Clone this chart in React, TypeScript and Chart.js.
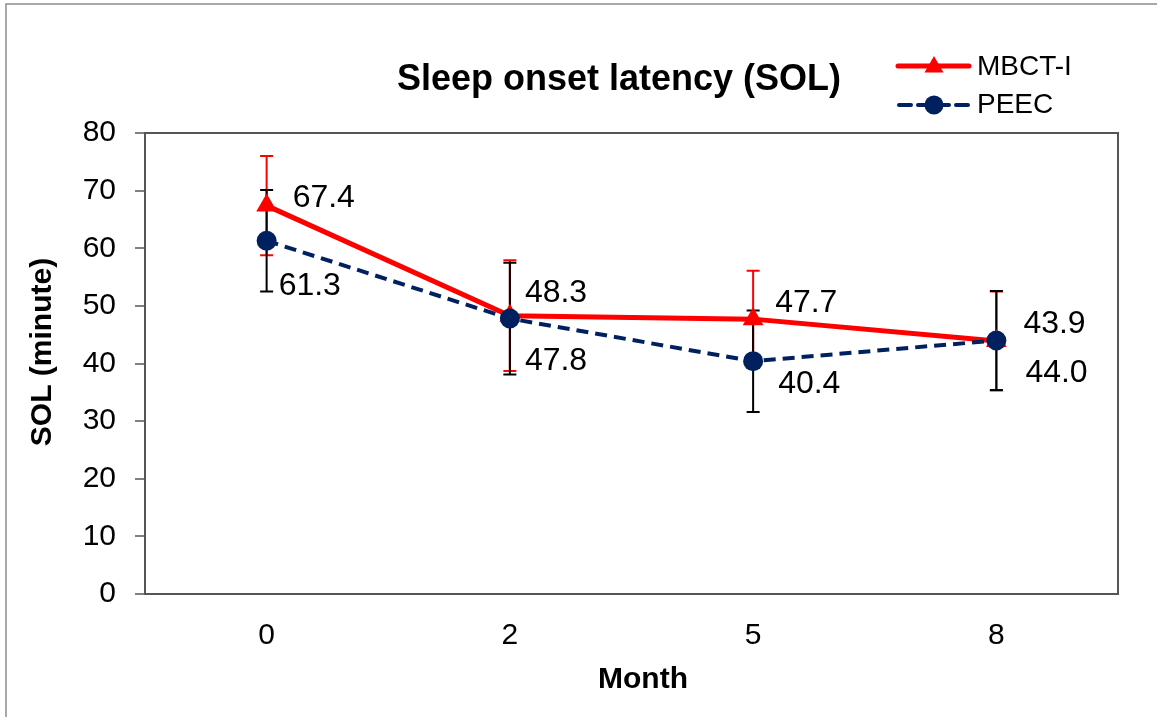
import React, { useEffect, useRef } from 'react';
import { Chart, registerables } from 'chart.js';

Chart.register(...registerables);

const months = ['0', '2', '5', '8'];
const mbctValues = [67.4, 48.3, 47.7, 43.9];
const mbctErrors = [8.6, 9.6, 8.4, 8.6];
const peecValues = [61.3, 47.8, 40.4, 44.0];
const peecErrors = [8.8, 9.7, 8.8, 8.6];
const yMin = 0;
const yMax = 80;
const yStep = 10;

const titleText = 'Sleep onset latency (SOL)';
const xTitle = 'Month';
const yTitle = 'SOL (minute)';

const FONT = '"Liberation Sans", Arial, sans-serif';
const RED = '#FF0000';
const NAVY = '#002060';

// label offsets (px) relative to each point: [dx, dy(baseline)]
const mbctLabelOffsets = [[26, 1], [15, -14], [22, -7], [27, -8]];
const peecLabelOffsets = [[12, 54], [15, 51], [25, 32], [29, 42]];

const overlay = {
  id: 'overlay',
  beforeDatasetsDraw(chart: any) {
    const ctx = chart.ctx;
    const { left, right, top, bottom } = chart.chartArea;
    ctx.save();
    // outer frame
    ctx.strokeStyle = '#8c8c8c';
    ctx.lineWidth = 1.5;
    ctx.beginPath();
    ctx.moveTo(6, 717);
    ctx.lineTo(6, 4);
    ctx.lineTo(1157, 4);
    ctx.stroke();
    // plot box
    ctx.strokeStyle = '#555555';
    ctx.lineWidth = 2;
    ctx.strokeRect(left, top, right - left, bottom - top);

    const yScale = chart.scales.y;
    const drawErr = (dsIndex: number, color: string) => {
      const ds = chart.data.datasets[dsIndex];
      const meta = chart.getDatasetMeta(dsIndex);
      ctx.strokeStyle = color;
      ctx.lineWidth = 2;
      meta.data.forEach((pt: any, i: number) => {
        const v = ds.data[i];
        const e = ds.errors[i];
        const yt = yScale.getPixelForValue(v + e);
        const yb = yScale.getPixelForValue(v - e);
        ctx.beginPath();
        ctx.moveTo(pt.x, yt);
        ctx.lineTo(pt.x, yb);
        ctx.moveTo(pt.x - 6.5, yt);
        ctx.lineTo(pt.x + 6.5, yt);
        ctx.moveTo(pt.x - 6.5, yb);
        ctx.lineTo(pt.x + 6.5, yb);
        ctx.stroke();
      });
    };
    drawErr(0, RED);
    drawErr(1, '#000000');
    ctx.restore();
  },
  afterDraw(chart: any) {
    const ctx = chart.ctx;
    ctx.save();
    ctx.fillStyle = '#000';
    // title
    ctx.font = `bold 36px ${FONT}`;
    ctx.textAlign = 'center';
    ctx.textBaseline = 'alphabetic';
    ctx.fillText(titleText, 619, 90);
    // x title
    ctx.font = `bold 30px ${FONT}`;
    ctx.fillText(xTitle, 643, 688);
    // y title
    ctx.save();
    ctx.translate(51, 352);
    ctx.rotate(-Math.PI / 2);
    ctx.fillText(yTitle, 0, 0);
    ctx.restore();

    // data labels
    ctx.font = `32px ${FONT}`;
    ctx.textAlign = 'left';
    const drawLabels = (dsIndex: number, offs: number[][]) => {
      const ds = chart.data.datasets[dsIndex];
      const meta = chart.getDatasetMeta(dsIndex);
      meta.data.forEach((pt: any, i: number) => {
        ctx.fillText(Number(ds.data[i]).toFixed(1), pt.x + offs[i][0], pt.y + offs[i][1]);
      });
    };
    drawLabels(0, mbctLabelOffsets);
    drawLabels(1, peecLabelOffsets);

    // legend
    const lx0 = 898, lx1 = 969, mx = 934, tx = 977;
    const ds0 = chart.data.datasets[0];
    const ds1 = chart.data.datasets[1];
    ctx.lineCap = 'round';
    ctx.strokeStyle = RED;
    ctx.lineWidth = 5;
    ctx.beginPath();
    ctx.moveTo(lx0, 66);
    ctx.lineTo(lx1, 66);
    ctx.stroke();
    ctx.lineCap = 'butt';
    ctx.fillStyle = RED;
    const r = 11;
    const cy = 67;
    ctx.beginPath();
    ctx.moveTo(mx, cy - r);
    ctx.lineTo(mx + Math.sin((2 * Math.PI) / 3) * r, cy - Math.cos((2 * Math.PI) / 3) * r);
    ctx.lineTo(mx + Math.sin((4 * Math.PI) / 3) * r, cy - Math.cos((4 * Math.PI) / 3) * r);
    ctx.closePath();
    ctx.fill();
    ctx.fillStyle = '#000';
    ctx.font = `28px ${FONT}`;
    ctx.fillText(ds0.label, tx, 75);

    ctx.strokeStyle = NAVY;
    ctx.lineWidth = 4;
    ctx.lineCap = 'round';
    ctx.setLineDash([12, 7]);
    ctx.beginPath();
    ctx.moveTo(lx0 + 1, 105);
    ctx.lineTo(lx1, 105);
    ctx.stroke();
    ctx.setLineDash([]);
    ctx.fillStyle = NAVY;
    ctx.beginPath();
    ctx.arc(mx, 105, 9.5, 0, Math.PI * 2);
    ctx.fill();
    ctx.fillStyle = '#000';
    ctx.fillText(ds1.label, tx, 113);
    ctx.restore();
  },
};

export default function App() {
  const canvasRef = useRef<HTMLCanvasElement | null>(null);

  useEffect(() => {
    if (!canvasRef.current) return;
    const chart = new Chart(canvasRef.current, {
      type: 'line',
      data: {
        labels: months,
        datasets: [
          {
            label: 'MBCT-I',
            data: mbctValues,
            errors: mbctErrors,
            borderColor: RED,
            backgroundColor: RED,
            borderWidth: 5,
            pointStyle: 'triangle',
            pointRadius: 12,
            pointBorderWidth: 0,
            pointBackgroundColor: RED,
            tension: 0,
            order: 1,
          } as any,
          {
            label: 'PEEC',
            data: peecValues,
            errors: peecErrors,
            borderColor: NAVY,
            backgroundColor: NAVY,
            borderWidth: 4,
            borderDash: [12, 7],
            pointStyle: 'circle',
            pointRadius: 10,
            pointBorderWidth: 0,
            pointBackgroundColor: NAVY,
            tension: 0,
            order: 0,
          } as any,
        ],
      },
      options: {
        responsive: false,
        animation: false,
        devicePixelRatio: 1,
        layout: { padding: { top: 133, right: 39, left: 0, bottom: 0 } },
        plugins: {
          legend: { display: false },
          title: { display: false },
          tooltip: { enabled: false },
        },
        scales: {
          x: {
            type: 'category',
            offset: true,
            grid: { display: false },
            border: { display: false },
            ticks: {
              color: '#000',
              font: { family: FONT, size: 30 },
              padding: 16,
              maxRotation: 0,
            },
            afterFit: (scale: any) => {
              scale.height = 123;
            },
          },
          y: {
            min: yMin,
            max: yMax,
            border: { display: false },
            grid: {
              drawOnChartArea: false,
              drawTicks: true,
              tickLength: 10,
              color: '#808080',
              lineWidth: 2,
            },
            ticks: {
              stepSize: yStep,
              color: '#000',
              font: { family: FONT, size: 30 },
              padding: 19,
            },
            afterFit: (scale: any) => {
              scale.width = 145;
            },
          },
        },
      } as any,
      plugins: [overlay],
    });
    return () => chart.destroy();
  }, []);

  return (
    <div style={{ position: 'fixed', left: 0, top: 0, width: 1157, height: 717, background: '#fff' }}>
      <canvas ref={canvasRef} width={1157} height={717} style={{ display: 'block', width: 1157, height: 717 }} />
    </div>
  );
}
